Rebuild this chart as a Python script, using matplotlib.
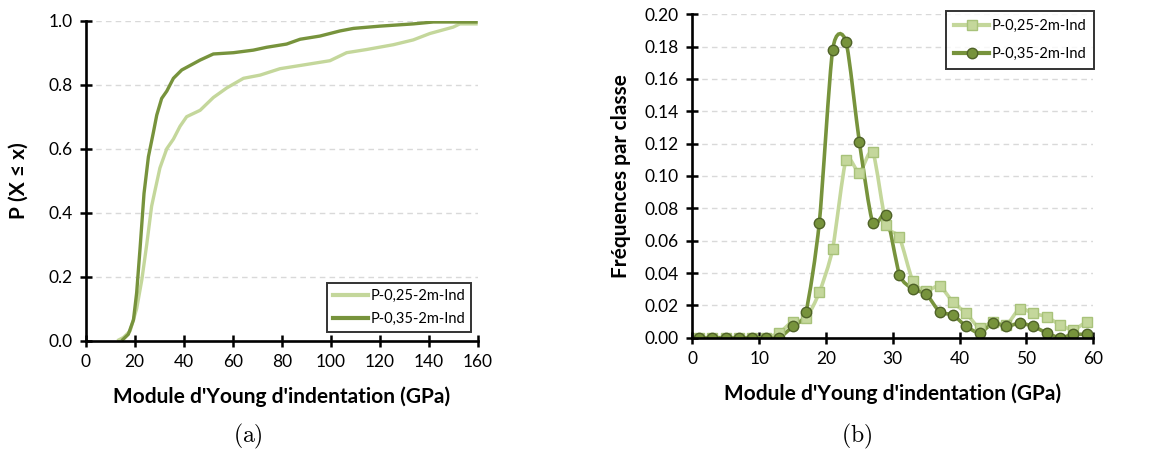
import numpy as np
import matplotlib
matplotlib.use("Agg")
from matplotlib import pyplot as plt
from matplotlib.path import Path
from matplotlib.patches import PathPatch
from matplotlib.lines import Line2D

plt.rcParams['font.family'] = ['Lato', 'DejaVu Sans']
plt.rcParams['mathtext.fontset'] = 'cm'

LIGHT = "#c4d79b"
LIGHT_EDGE = "#a8c27a"
DARK = "#77933c"
DARK_EDGE = "#4f6228"

names = ["P-0,25-2m-Ind", "P-0,35-2m-Ind"]

# (a) cumulative distributions
cdf_x_025 = [12.9, 15.4, 18.1, 20.8, 22.9, 24.9, 26.9, 28.3, 30.3, 33.1, 35.8, 38.5, 41.2,
             46.7, 52.1, 57.6, 64.4, 71.2, 79.3, 87.5, 99.7, 106.5, 114.7, 125.6, 133.7,
             140.5, 150.0, 152.7, 160.0]
cdf_y_025 = [0.0, 0.01, 0.03, 0.10, 0.19, 0.30, 0.42, 0.47, 0.54, 0.60, 0.63, 0.67, 0.70,
             0.72, 0.76, 0.79, 0.82, 0.83, 0.85, 0.86, 0.875, 0.90, 0.91, 0.925, 0.94,
             0.96, 0.98, 0.99, 0.99]
cdf_x_035 = [14.7, 17.4, 19.5, 20.8, 22.2, 23.8, 25.6, 27.6, 29.0, 31.0, 33.1, 35.8, 39.2,
             42.6, 46.7, 52.1, 60.3, 68.4, 73.9, 82.0, 87.5, 95.6, 103.8, 109.3, 120.1,
             133.7, 141.9, 160.0]
cdf_y_035 = [0.0, 0.02, 0.065, 0.15, 0.29, 0.46, 0.575, 0.65, 0.705, 0.757, 0.78, 0.82, 0.846,
             0.86, 0.877, 0.896, 0.90, 0.908, 0.917, 0.927, 0.942, 0.952, 0.968, 0.976, 0.983,
             0.99, 0.996, 0.996]

# (b) class frequencies
classes = [1, 3, 5, 7, 9, 11, 13, 15, 17, 19, 21, 23, 25, 27, 29,
           31, 33, 35, 37, 39, 41, 43, 45, 47, 49, 51, 53, 55, 57, 59]
freq_025 = [0, 0, 0, 0, 0, 0, 0.003, 0.010, 0.012, 0.028, 0.055, 0.110, 0.102, 0.115, 0.070,
            0.062, 0.035, 0.029, 0.032, 0.022, 0.015, 0.006, 0.010, 0.008, 0.018, 0.015,
            0.013, 0.008, 0.005, 0.010]
freq_035 = [0, 0, 0, 0, 0, 0, 0, 0.007, 0.016, 0.071, 0.178, 0.183, 0.121, 0.071, 0.076,
            0.039, 0.030, 0.027, 0.016, 0.014, 0.007, 0.003, 0.009, 0.007, 0.009, 0.007,
            0.003, 0.0, 0.002, 0.002]


def smooth_path(x, y, k=8.5):
    # Excel-like smoothed line: Catmull-Rom style cubic Bezier segments
    pts = np.column_stack([x, y]).astype(float)
    verts = [pts[0]]
    codes = [Path.MOVETO]
    n = len(pts)
    for i in range(n - 1):
        p0 = pts[i - 1] if i > 0 else pts[i]
        p1 = pts[i]
        p2 = pts[i + 1]
        p3 = pts[i + 2] if i + 2 < n else pts[i + 1]
        verts += [p1 + (p2 - p0) / k, p2 - (p3 - p1) / k, p2]
        codes += [Path.CURVE4] * 3
    return Path(verts, codes)


def style_axes(ax):
    for s in ["top", "right"]:
        ax.spines[s].set_visible(False)
    for s in ["left", "bottom"]:
        ax.spines[s].set_linewidth(1.9)
        ax.spines[s].set_color("black")
    ax.tick_params(direction="inout", length=9, width=1.8, labelsize=12.5, pad=5)
    ax.grid(axis="y", linestyle=(0, (4, 3)), color="#d9d9d9", linewidth=1)
    ax.set_axisbelow(True)


fig = plt.figure(figsize=(11.51, 4.51), dpi=100)
W, H = 1151, 451

# panel (a)
ax1 = fig.add_axes([85.7 / W, 1 - 340.7 / H, 392 / W, 320 / H])
style_axes(ax1)
ax1.plot(cdf_x_025, cdf_y_025, color=LIGHT, lw=2.4, solid_capstyle="butt")
ax1.plot(cdf_x_035, cdf_y_035, color=DARK, lw=2.4, solid_capstyle="butt")
ax1.set_xlim(0, 160)
ax1.set_ylim(0, 1.0)
ax1.set_xticks(np.arange(0, 161, 20))
ax1.set_yticks(np.arange(0, 1.01, 0.2))
ax1.yaxis.set_major_formatter(matplotlib.ticker.FormatStrFormatter("%.1f"))
ax1.set_xlabel("Module d'Young d'indentation (GPa)", fontsize=15, fontweight="bold", labelpad=12)
ax1.set_ylabel("P (X ≤ x)", fontsize=15, fontweight="bold", labelpad=14)
h1 = [Line2D([], [], color=LIGHT, lw=3), Line2D([], [], color=DARK, lw=3)]
leg1 = ax1.legend(h1, names, loc="lower right", bbox_to_anchor=(0.983, 0.027), fontsize=10.5,
                  frameon=True, fancybox=False, edgecolor="black", handlelength=2.4,
                  handletextpad=0.15, borderpad=0.4, labelspacing=0.65, borderaxespad=0)
leg1.get_frame().set_linewidth(1.4)

# panel (b)
ax2 = fig.add_axes([692.3 / W, 1 - 337.7 / H, 401 / W, 323.4 / H])
style_axes(ax2)
ax2.add_patch(PathPatch(smooth_path(classes, freq_025), facecolor="none",
                        edgecolor=LIGHT, lw=2.6))
ax2.plot(classes, freq_025, ls="none", marker="s", ms=7.5, mfc=LIGHT, mec=LIGHT_EDGE, mew=1)
ax2.add_patch(PathPatch(smooth_path(classes, freq_035), facecolor="none",
                        edgecolor=DARK, lw=2.6))
ax2.plot(classes, freq_035, ls="none", marker="o", ms=7.5, mfc=DARK, mec=DARK_EDGE, mew=1)
ax2.set_xlim(0, 60)
ax2.set_ylim(0, 0.20)
ax2.set_xticks(np.arange(0, 61, 10))
ax2.set_yticks(np.arange(0, 0.201, 0.02))
ax2.yaxis.set_major_formatter(matplotlib.ticker.FormatStrFormatter("%.2f"))
ax2.set_xlabel("Module d'Young d'indentation (GPa)", fontsize=15, fontweight="bold", labelpad=12)
ax2.set_ylabel("Fréquences par classe", fontsize=15, fontweight="bold", labelpad=10)
h2 = [Line2D([], [], color=LIGHT, lw=3, marker="s", ms=7.5, mfc=LIGHT, mec=LIGHT_EDGE),
      Line2D([], [], color=DARK, lw=3, marker="o", ms=7.5, mfc=DARK, mec=DARK_EDGE)]
leg2 = ax2.legend(h2, names, loc="upper right", bbox_to_anchor=(1.002, 1.011), fontsize=10.5,
                  frameon=True, fancybox=False, edgecolor="black", handlelength=2.4,
                  handletextpad=0.15, borderpad=0.55, labelspacing=1.0, borderaxespad=0)
leg2.get_frame().set_linewidth(1.4)

fig.text(248 / W, 1 - 436 / H, r"$\mathrm{(a)}$", ha="center", va="center", fontsize=17)
fig.text(857 / W, 1 - 436 / H, r"$\mathrm{(b)}$", ha="center", va="center", fontsize=17)

fig.savefig("out.png", dpi=100)
